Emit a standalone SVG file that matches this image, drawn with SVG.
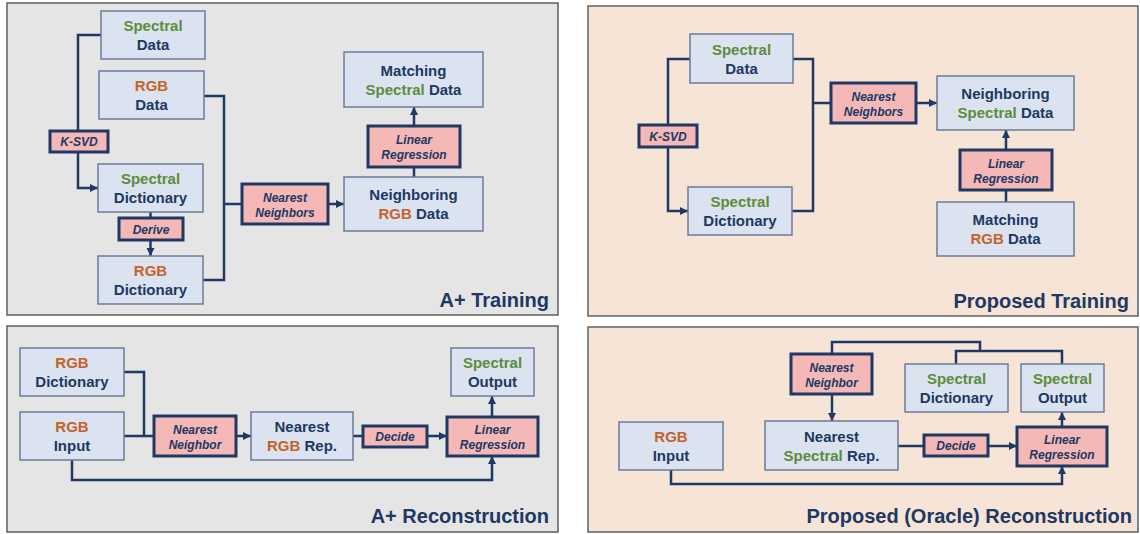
<svg xmlns="http://www.w3.org/2000/svg" width="1140" height="534" viewBox="0 0 1140 534">
<defs>
<style>
.pg{fill:#e5e5e5;stroke:#5f5f5f;stroke-width:1.5}
.pp{fill:#f6e4d6;stroke:#5f5f5f;stroke-width:1.5}
.nd{fill:#dbe3f0;stroke:#6c7b9c;stroke-width:1.5}
.op{fill:#f4b8b7;stroke:#1f3864;stroke-width:3}
.t{font-family:"Liberation Sans",Arial,sans-serif;font-weight:bold;font-size:15px;fill:#203864;text-anchor:middle}
.o{font-family:"Liberation Sans",Arial,sans-serif;font-weight:bold;font-style:italic;font-size:12px;fill:#203864;text-anchor:middle}
.ti{font-family:"Liberation Sans",Arial,sans-serif;font-weight:bold;font-size:20px;fill:#203864;text-anchor:end}
.g{fill:#5e8c3a}
.r{fill:#c5622a}
.c{fill:none;stroke:#1f3864;stroke-width:2.5}
</style>
<marker id="ar" markerUnits="userSpaceOnUse" markerWidth="9" markerHeight="9" refX="8" refY="4" orient="auto">
<path d="M0,0 L8,4 L0,8 z" fill="#1f3864"/>
</marker>
</defs>

<g id="panels">
<rect class="pg" x="7" y="3" width="551" height="312"/>
<rect class="pp" x="588" y="6" width="550" height="310"/>
<rect class="pg" x="7" y="326" width="551" height="206"/>
<rect class="pp" x="588" y="327" width="550" height="205"/>
<text class="ti" x="549" y="307">A+ Training</text>
<text class="ti" x="1129" y="308">Proposed Training</text>
<text class="ti" x="549" y="523">A+ Reconstruction</text>
<text class="ti" x="1132" y="523">Proposed (Oracle) Reconstruction</text>
</g>

<g id="connectors">
<path class="c" d="M101,35 H78 V131"/>
<path class="c" d="M78,152 V188 H98" marker-end="url(#ar)"/>
<path class="c" d="M150.5,212 V218"/>
<path class="c" d="M150.5,240 V256" marker-end="url(#ar)"/>
<path class="c" d="M204,96 H224 V280 H203"/>
<path class="c" d="M224,204 H242"/>
<path class="c" d="M328,204 H344" marker-end="url(#ar)"/>
<path class="c" d="M414,177 V167"/>
<path class="c" d="M414,126 V107" marker-end="url(#ar)"/>

<path class="c" d="M690,59 H668 V125"/>
<path class="c" d="M668,147 V211 H688" marker-end="url(#ar)"/>
<path class="c" d="M793,59 H813 V211 H792"/>
<path class="c" d="M813,103 H831"/>
<path class="c" d="M916,103 H937" marker-end="url(#ar)"/>
<path class="c" d="M1006,202 V190"/>
<path class="c" d="M1006,150 V130" marker-end="url(#ar)"/>

<path class="c" d="M124,372 H144 V436"/>
<path class="c" d="M124,436 H154"/>
<path class="c" d="M236,436 H251" marker-end="url(#ar)"/>
<path class="c" d="M353,436 H363"/>
<path class="c" d="M427,436 H447" marker-end="url(#ar)"/>
<path class="c" d="M492,417 V396" marker-end="url(#ar)"/>
<path class="c" d="M72,460 V480 H492 V456" marker-end="url(#ar)"/>

<path class="c" d="M832,354 V342 H980 V351"/>
<path class="c" d="M956,364 V351 H1062 V364"/>
<path class="c" d="M832,394 V421" marker-end="url(#ar)"/>
<path class="c" d="M898,446 H924"/>
<path class="c" d="M988,446 H1017" marker-end="url(#ar)"/>
<path class="c" d="M1062,427 V412" marker-end="url(#ar)"/>
<path class="c" d="M671,470 V484 H1062 V466" marker-end="url(#ar)"/>
</g>

<g id="a_spec_data"><rect class="nd" x="101" y="11" width="104" height="48"/><text class="t" x="153" y="31"><tspan class="g">Spectral</tspan></text><text class="t" x="153" y="50">Data</text></g>
<g id="a_rgb_data"><rect class="nd" x="99" y="71" width="105" height="48"/><text class="t" x="151.5" y="91"><tspan class="r">RGB</tspan></text><text class="t" x="151.5" y="110">Data</text></g>
<g id="a_ksvd"><rect class="op" x="50" y="131" width="58" height="21"/><text class="o" x="79" y="146">K-SVD</text></g>
<g id="a_spec_dict"><rect class="nd" x="98" y="164" width="105" height="48"/><text class="t" x="150.5" y="184"><tspan class="g">Spectral</tspan></text><text class="t" x="150.5" y="203">Dictionary</text></g>
<g id="a_derive"><rect class="op" x="119" y="218" width="64" height="22"/><text class="o" x="151" y="233.5">Derive</text></g>
<g id="a_rgb_dict"><rect class="nd" x="98" y="256" width="105" height="48"/><text class="t" x="150.5" y="276"><tspan class="r">RGB</tspan></text><text class="t" x="150.5" y="295">Dictionary</text></g>
<g id="a_nn"><rect class="op" x="242" y="184" width="86" height="40"/><text class="o" x="285" y="201.5">Nearest</text><text class="o" x="285" y="216.5">Neighbors</text></g>
<g id="a_neigh"><rect class="nd" x="344" y="177" width="139" height="54"/><text class="t" x="413.5" y="200">Neighboring</text><text class="t" x="413.5" y="219"><tspan class="r">RGB</tspan> Data</text></g>
<g id="a_lr"><rect class="op" x="368" y="126" width="92" height="41"/><text class="o" x="414" y="144">Linear</text><text class="o" x="414" y="159">Regression</text></g>
<g id="a_match"><rect class="nd" x="344" y="52" width="139" height="55"/><text class="t" x="413.5" y="75.5">Matching</text><text class="t" x="413.5" y="94.5"><tspan class="g">Spectral</tspan> Data</text></g>

<g id="p_spec_data"><rect class="nd" x="690" y="34" width="103" height="49"/><text class="t" x="741.5" y="54.5"><tspan class="g">Spectral</tspan></text><text class="t" x="741.5" y="73.5">Data</text></g>
<g id="p_ksvd"><rect class="op" x="639" y="125" width="58" height="22"/><text class="o" x="668" y="140.5">K-SVD</text></g>
<g id="p_spec_dict"><rect class="nd" x="688" y="187" width="104" height="48"/><text class="t" x="740" y="207"><tspan class="g">Spectral</tspan></text><text class="t" x="740" y="226">Dictionary</text></g>
<g id="p_nn"><rect class="op" x="831" y="83" width="85" height="40"/><text class="o" x="873.5" y="100.5">Nearest</text><text class="o" x="873.5" y="115.5">Neighbors</text></g>
<g id="p_neigh"><rect class="nd" x="937" y="76" width="137" height="54"/><text class="t" x="1005.5" y="99">Neighboring</text><text class="t" x="1005.5" y="118"><tspan class="g">Spectral</tspan> Data</text></g>
<g id="p_lr"><rect class="op" x="960" y="150" width="92" height="40"/><text class="o" x="1006" y="167.5">Linear</text><text class="o" x="1006" y="182.5">Regression</text></g>
<g id="p_match"><rect class="nd" x="937" y="202" width="137" height="54"/><text class="t" x="1005.5" y="225">Matching</text><text class="t" x="1005.5" y="244"><tspan class="r">RGB</tspan> Data</text></g>

<g id="ar_rgb_dict"><rect class="nd" x="20" y="348" width="104" height="48"/><text class="t" x="72" y="368"><tspan class="r">RGB</tspan></text><text class="t" x="72" y="387">Dictionary</text></g>
<g id="ar_rgb_input"><rect class="nd" x="20" y="412" width="104" height="48"/><text class="t" x="72" y="432"><tspan class="r">RGB</tspan></text><text class="t" x="72" y="451">Input</text></g>
<g id="ar_nn"><rect class="op" x="154" y="416" width="82" height="40"/><text class="o" x="195" y="433.5">Nearest</text><text class="o" x="195" y="448.5">Neighbor</text></g>
<g id="ar_rep"><rect class="nd" x="251" y="412" width="102" height="48"/><text class="t" x="302" y="432">Nearest</text><text class="t" x="302" y="451"><tspan class="r">RGB</tspan> Rep.</text></g>
<g id="ar_decide"><rect class="op" x="363" y="426" width="64" height="21"/><text class="o" x="395" y="441">Decide</text></g>
<g id="ar_lr"><rect class="op" x="447" y="417" width="91" height="39"/><text class="o" x="492.5" y="434">Linear</text><text class="o" x="492.5" y="449">Regression</text></g>
<g id="ar_out"><rect class="nd" x="451" y="348" width="83" height="48"/><text class="t" x="492.5" y="368"><tspan class="g">Spectral</tspan></text><text class="t" x="492.5" y="387">Output</text></g>

<g id="pr_rgb_input"><rect class="nd" x="619" y="422" width="104" height="48"/><text class="t" x="671" y="442"><tspan class="r">RGB</tspan></text><text class="t" x="671" y="461">Input</text></g>
<g id="pr_nn"><rect class="op" x="791" y="354" width="81" height="40"/><text class="o" x="831.5" y="371.5">Nearest</text><text class="o" x="831.5" y="386.5">Neighbor</text></g>
<g id="pr_rep"><rect class="nd" x="765" y="421" width="133" height="49"/><text class="t" x="831.5" y="441.5">Nearest</text><text class="t" x="831.5" y="460.5"><tspan class="g">Spectral</tspan> Rep.</text></g>
<g id="pr_dict"><rect class="nd" x="905" y="364" width="103" height="48"/><text class="t" x="956.5" y="384"><tspan class="g">Spectral</tspan></text><text class="t" x="956.5" y="403">Dictionary</text></g>
<g id="pr_out"><rect class="nd" x="1021" y="364" width="83" height="48"/><text class="t" x="1062.5" y="384"><tspan class="g">Spectral</tspan></text><text class="t" x="1062.5" y="403">Output</text></g>
<g id="pr_decide"><rect class="op" x="924" y="435" width="64" height="21"/><text class="o" x="956" y="450">Decide</text></g>
<g id="pr_lr"><rect class="op" x="1017" y="427" width="90" height="39"/><text class="o" x="1062" y="444">Linear</text><text class="o" x="1062" y="459">Regression</text></g>
</svg>
